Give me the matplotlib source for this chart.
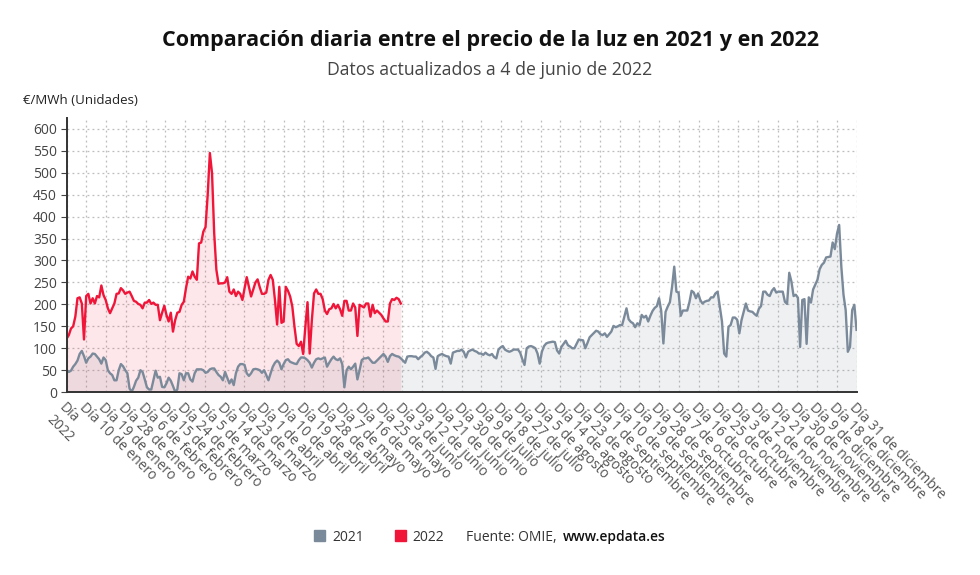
import numpy as np
import matplotlib.pyplot as plt
from matplotlib.patches import Patch

plt.rcParams['font.family'] = ['Open Sans', 'DejaVu Sans']

# ---- data ----------------------------------------------------------------
# daily price (EUR/MWh), index 0 = 1 January
precio_2021 = [
    50, 46, 49, 58, 64, 72, 87, 94, 82, 67,
    77, 81, 88, 87, 81, 75, 65, 79, 73, 50,
    43, 39, 27, 27, 50, 64, 59, 50, 43, 8,
    1, 12, 26, 33, 50, 46, 29, 11, 6, 6,
    27, 49, 33, 35, 12, 11, 20, 33, 26, 14,
    1, 6, 43, 41, 27, 43, 43, 29, 24, 43,
    52, 52, 52, 50, 44, 46, 52, 54, 54, 46,
    39, 35, 27, 46, 33, 20, 29,
    16, 43, 58, 64, 64, 62, 43, 37, 43, 52,
    53, 52, 50, 44, 50, 39, 27, 43, 58, 67,
    72, 67, 52, 64, 73, 75, 69, 67, 65, 64,
    73, 79, 79, 77, 73, 67, 56, 67, 75, 77,
    75, 77, 79, 58, 67, 75, 81, 75, 73, 77,
    64, 11, 50, 58, 52, 58, 65, 29, 50, 73,
    77, 77, 79, 73, 67, 67, 72, 77, 82, 87,
    81, 69, 82, 87, 84, 82, 81, 77,
    72, 67, 81, 82, 82, 81, 81, 75, 80, 84,
    90, 92, 88, 82, 79, 53, 82, 85, 87, 84,
    82, 81, 65, 90, 92, 94, 94, 97, 92, 79,
    92, 95, 97, 94, 92, 88, 88, 85, 90, 86,
    84, 87, 80, 77, 97, 102, 105, 97, 94, 92,
    94, 97, 97, 97, 90, 75, 62, 100, 104, 105,
    103, 100, 88, 65, 92, 105, 111, 113, 114, 115,
    114, 95, 88, 103, 110, 117, 107, 104, 100, 100,
    110, 120, 119, 118, 100, 112, 125, 130, 135, 140,
    138, 132, 130, 134, 126, 132, 138, 151, 148, 150,
    153, 153, 172, 191, 166, 160, 157, 148, 157, 153,
    176, 170, 174, 161, 174, 185, 192, 196, 214, 185,
    111, 183, 195, 205, 240, 286, 229, 227, 174, 186,
    186, 186, 205, 231, 227, 214, 225, 210, 202, 206,
    208, 209, 216, 216, 225, 229, 195, 161, 88, 81,
    149, 153, 170, 170, 165, 134, 164, 183, 202, 186,
    184, 183, 178, 174, 190, 196, 229, 229, 222, 219,
    231, 237, 227, 229, 229, 229, 206, 201, 272, 252,
    219, 222, 215, 103, 210, 212, 110, 216, 204, 234,
    245, 256, 280, 290, 295, 307, 308, 309, 341, 326,
    361, 381, 286, 222, 187, 92, 103, 187, 199, 142,
]

precio_2022 = [
    122, 130, 145, 150, 172, 214, 216, 202, 120, 219,
    224, 202, 214, 202, 219, 216, 243, 221, 210, 191,
    180, 191, 202, 224, 225, 237, 232, 224, 227, 229,
    219, 208, 206, 201, 199, 191, 204, 204, 210, 201,
    204, 199, 199, 164, 181, 197, 176, 161, 181, 138,
    164, 181, 183, 199, 206, 237, 263, 259, 275, 263,
    256, 339, 341, 366, 376, 450, 545, 499, 362, 279,
    247, 248, 248, 250, 262, 229, 224, 234, 219, 229,
    224, 210, 237, 262, 240, 218, 234, 250, 257, 239,
    224, 224, 227, 256, 267, 256, 210, 154, 240, 158,
    161, 240, 231, 218, 195, 149, 110, 105, 115, 87,
    149, 205, 88, 164, 225, 234, 224, 224, 212, 186,
    178, 189, 191, 201, 191, 199, 189, 174, 208, 208,
    186, 186, 202, 193, 128, 199, 196, 193, 202, 202,
    172, 199, 180, 186, 181, 176, 168, 161, 161, 202,
    212, 210, 215, 212, 202,
]

etiquetas_x = [
    "Día\n2022", "Día 10 de enero", "Día 19 de enero", "Día 28 de enero",
    "Día 6 de febrero", "Día 15 de febrero", "Día 24 de febrero",
    "Día 5 de marzo", "Día 14 de marzo", "Día 23 de marzo",
    "Día 1 de abril", "Día 10 de abril", "Día 19 de abril", "Día 28 de abril",
    "Día 7 de mayo", "Día 16 de mayo", "Día 25 de mayo",
    "Día 3 de junio", "Día 12 de junio", "Día 21 de junio", "Día 30 de junio",
    "Día 9 de julio", "Día 18 de julio", "Día 27 de julio",
    "Día 5 de agosto", "Día 14 de agosto", "Día 23 de agosto",
    "Día 1 de septiembre", "Día 10 de septiembre", "Día 19 de septiembre",
    "Día 28 de septiembre", "Día 7 de octubre", "Día 16 de octubre",
    "Día 25 de octubre", "Día 3 de noviembre", "Día 12 de noviembre",
    "Día 21 de noviembre", "Día 30 de noviembre", "Día 9 de diciembre",
    "Día 18 de diciembre", "Día 31 de diciembre",
]

assert len(precio_2021) == 365, len(precio_2021)
assert len(precio_2022) == 155, len(precio_2022)

COL_2021 = "#7b8a9a"
COL_2022 = "#f0163a"

dias_2021 = np.arange(len(precio_2021))
dias_2022 = np.arange(len(precio_2022))

# ---- plot ----------------------------------------------------------------
fig = plt.figure(figsize=(9.8, 5.75), dpi=100)
ax = fig.add_axes([0.068, 0.318, 0.806, 0.477])

ax.fill_between(dias_2021, precio_2021, color=COL_2021, alpha=0.12, lw=0)
ax.plot(dias_2021, precio_2021, color=COL_2021, lw=1.7)
ax.fill_between(dias_2022, precio_2022, color=COL_2022, alpha=0.10, lw=0)
ax.plot(dias_2022, precio_2022, color=COL_2022, lw=1.7)

ax.set_xlim(0, len(precio_2021) - 1)
ax.set_ylim(0, 625)
ax.set_yticks(np.arange(0, 601, 50))
ax.set_xticks(np.linspace(0, len(precio_2021) - 1, len(etiquetas_x)))
ax.set_xticklabels(etiquetas_x, rotation=-45, ha="left", va="top",
                   rotation_mode="anchor", fontsize=10, color="#555555")
ax.tick_params(axis="y", labelsize=10, labelcolor="#444444", length=4,
               color="#444444", pad=3)
ax.tick_params(axis="x", length=0, pad=6)

ax.grid(True, color="#bdbdbd", ls=(0, (1.5, 2.5)), lw=0.9)
ax.set_axisbelow(True)
for s in ["top", "right"]:
    ax.spines[s].set_visible(False)
for s in ["left", "bottom"]:
    ax.spines[s].set_linestyle((0, (1, 1)))
    ax.spines[s].set_color("#333333")
    ax.spines[s].set_linewidth(1.4)

# ---- titles ----------------------------------------------------------------
fig.text(0.5, 0.93, "Comparación diaria entre el precio de la luz en 2021 y en 2022",
         ha="center", va="center", fontsize=15.5, fontweight="bold",
         color="#111111")
fig.text(0.5, 0.878, "Datos actualizados a 4 de junio de 2022",
         ha="center", va="center", fontsize=12.7, color="#444444")
fig.text(0.023, 0.826, "€/MWh (Unidades)", ha="left", va="center",
         fontsize=9.5, color="#222222")

# ---- legend / source -------------------------------------------------------
handles = [Patch(color=COL_2021, label="2021"), Patch(color=COL_2022, label="2022")]
fig.legend(handles=handles, loc="center", bbox_to_anchor=(0.387, 0.066), ncol=2,
           frameon=False, fontsize=10, handlelength=0.8, handleheight=0.8,
           handletextpad=0.5, columnspacing=2.2, labelcolor="#333333")
fig.text(0.476, 0.066, "Fuente: OMIE, ", ha="left", va="center",
         fontsize=10, color="#333333")
fig.text(0.574, 0.066, "www.epdata.es", ha="left", va="center",
         fontsize=10, color="#111111", fontweight="semibold")

fig.savefig("out.png", dpi=100)
